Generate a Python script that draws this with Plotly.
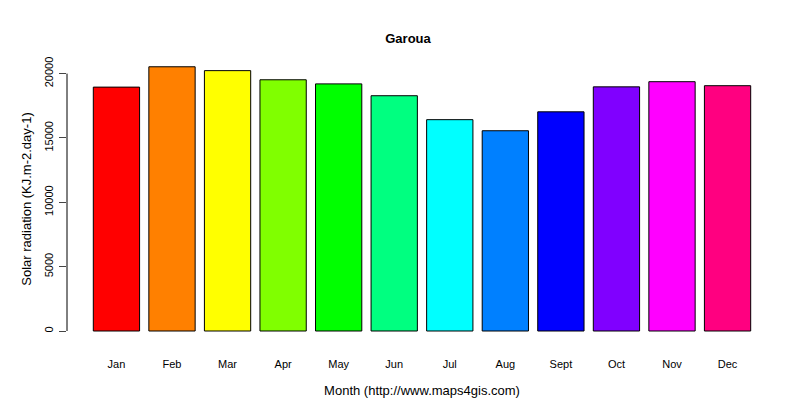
import plotly.graph_objects as go

months = ["Jan","Feb","Mar","Apr","May","Jun","Jul","Aug","Sept","Oct","Nov","Dec"]
values = [18950, 20530, 20230, 19520, 19200, 18280, 16420, 15560, 17030, 18970, 19370, 19060]
colors = ["#FF0000","#FF8000","#FFFF00","#80FF00","#00FF00","#00FF80",
          "#00FFFF","#0080FF","#0000FF","#8000FF","#FF00FF","#FF0080"]
xpos = [0.7 + 1.2*i for i in range(len(months))]
yticks = [0, 5000, 10000, 15000, 20000]
yticklabels = ["0", "5000", "10000", "15000", "20000"]

fig = go.Figure(go.Bar(x=xpos, y=values, width=1, marker=dict(color=colors, line=dict(color="black", width=1))))
font = dict(family="Liberation Sans, Arial", size=11, color="black")
fig.update_layout(
    width=800, height=400, plot_bgcolor="white", paper_bgcolor="white",
    margin=dict(l=59, r=31, t=48, b=66), font=font, showlegend=False,
    title=dict(text="<b>Garoua</b>", x=0.5, xanchor="center", y=0.925, yanchor="middle", font=dict(size=13)),
    xaxis=dict(range=[-0.368, 14.968], tickvals=xpos, ticktext=months, showgrid=False, zeroline=False,
               showline=False, ticks="", ticklabelstandoff=14, automargin=False,
               title=dict(text="Month (http://www.maps4gis.com)", standoff=16)),
    yaxis=dict(range=[-854, 21367], tickvals=yticks, ticktext=yticklabels, showgrid=False, zeroline=False,
               showline=False, ticks="outside", ticklen=7, tickangle=-90, ticklabelstandoff=2, automargin=False,
               title=dict(text="Solar radiation (KJ.m-2.day-1)", standoff=8)),
)
fig.add_shape(type="line", xref="paper", yref="y", x0=0, x1=0, y0=0, y1=20000, line=dict(color="black", width=1))
fig.write_html("out.html")
